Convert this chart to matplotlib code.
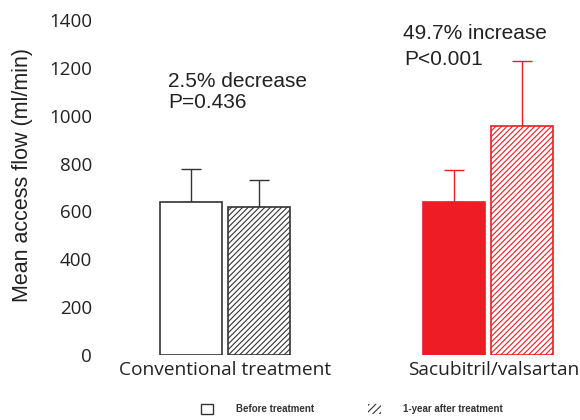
import matplotlib
matplotlib.use("Agg")
import matplotlib.pyplot as plt
from matplotlib.patches import Patch
import numpy as np

groups = ["Conventional treatment", "Sacubitril/valsartan"]
series = ["Before treatment", "1-year after treatment"]
before_mean = [640, 640]
before_sd = [137, 133]
after_mean = [618, 957]
after_sd = [113, 272]
annot_top = ["2.5% decrease", "49.7% increase"]
annot_bot = ["P=0.436", "P<0.001"]
yticks = [0, 200, 400, 600, 800, 1000, 1200, 1400]

plt.rcParams['hatch.linewidth'] = 0.8
fig = plt.figure(figsize=(5.8, 4.2), dpi=100)
ax = fig.add_axes([110/580, 65/420, (575-110)/580, 335/420])

x = np.arange(len(groups))
w = 0.236
off = 0.13
edge = ["#333333", "#ee1c25"]
fill = ["white", "#ee1c25"]

for i in range(len(groups)):
    ax.bar(x[i] - off, before_mean[i], w, color=fill[i], edgecolor=edge[i], linewidth=1.2, zorder=2)
    ax.errorbar(x[i] - off, before_mean[i], yerr=[[0], [before_sd[i]]], color=edge[i],
                capsize=7, elinewidth=1, capthick=1, zorder=1)
    ax.bar(x[i] + off, after_mean[i], w, color="white", edgecolor=edge[i], hatch="//////",
           linewidth=1.2, zorder=2)
    ax.errorbar(x[i] + off, after_mean[i], yerr=[[0], [after_sd[i]]], color=edge[i],
                capsize=7, elinewidth=1, capthick=1, zorder=1)

ax.set_xlim((110-225)/263, (575-225)/263)
ax.set_ylim(0, 1400)
ax.set_yticks(yticks)
ax.set_yticklabels([str(v) for v in yticks], fontfamily="Open Sans", fontsize=13.5, color="#222222")
ax.tick_params(axis='y', length=0, pad=13)
ax.set_xticks(x + np.array([0.0, 0.02]))
ax.set_xticklabels(groups, fontfamily="Open Sans", fontsize=13.8, color="#222222")
ax.tick_params(axis='x', length=0, pad=4)
for s in ax.spines.values():
    s.set_visible(False)
ax.set_ylabel("Mean access flow (ml/min)", fontfamily="Liberation Sans", fontsize=15.5,
              color="#222222")
ax.yaxis.set_label_coords(-0.166, 0.537)

tk = dict(fontfamily="Liberation Sans", fontsize=15, color="#222222", va="baseline")
ax.text(-0.217, 1122, annot_top[0], **tk)
ax.text(-0.217, 1034, annot_bot[0], **tk)
ax.text(0.677, 1320, annot_top[1], **tk)
ax.text(0.681, 1212, annot_bot[1], **tk)

handles = [Patch(facecolor="white", edgecolor="#333333", linewidth=1.0, label=series[0]),
           Patch(facecolor="white", edgecolor="#333333", linewidth=0, hatch="/////", label=series[1])]
leg = fig.legend(handles=handles, loc="center", bbox_to_anchor=(352/580, 1 - 409/420), ncol=2,
                 frameon=False, prop={"family": "Liberation Sans", "size": 7, "weight": "bold"},
                 handlelength=1.25, handleheight=1.25, columnspacing=5.6, handletextpad=2.3)
for t in leg.get_texts():
    t.set_color("#333333")

fig.savefig("out.png", dpi=100, facecolor="white")
